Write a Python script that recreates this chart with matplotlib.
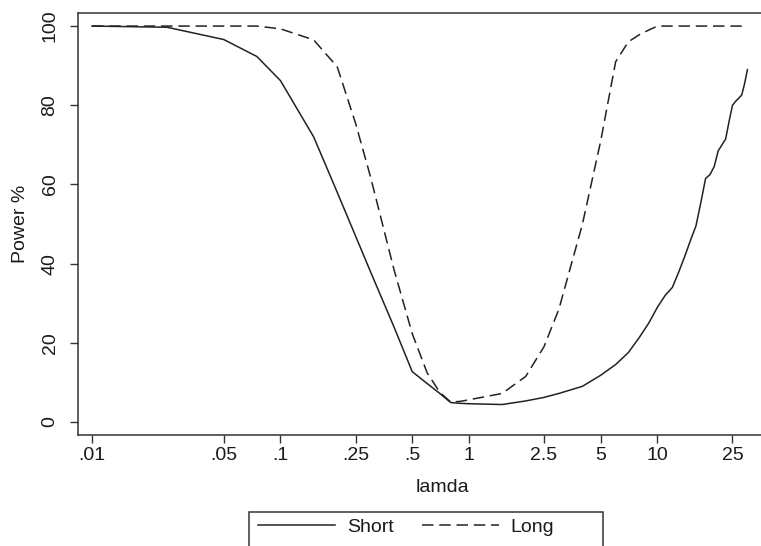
import matplotlib
matplotlib.use("Agg")
import matplotlib.pyplot as plt
from matplotlib.patches import Rectangle
import numpy as np

plt.rcParams['font.family'] = ['Liberation Sans', 'DejaVu Sans']

# ---- data ----
lamda = [0.01, 0.025, 0.05, 0.075, 0.1, 0.15, 0.2, 0.25, 0.3, 0.4, 0.5, 0.6, 0.7, 0.8, 0.9,
         1, 1.5, 2, 2.5, 3, 4, 5, 6, 7, 8, 9, 10, 11, 12, 13, 14, 15, 16, 17, 18, 19, 20,
         21, 22, 23, 24, 25, 26, 27, 28, 29, 30]
short = [100, 99.7, 96.6, 92.3, 86.2, 72, 58, 47, 38, 24, 12.7, 9.7, 7.2, 4.9, 4.7,
         4.6, 4.4, 5.3, 6.2, 7.2, 9.0, 11.8, 14.5, 17.5, 21.3, 25, 29, 32, 34, 38, 42, 46, 49.5, 55.5, 61.5, 62.5, 64.5,
         68.5, 70, 71.5, 76, 80, 81, 81.8, 82.6, 85.5, 89]
long_ = [100, 100, 100, 100, 99.3, 96.5, 89.7, 75.5, 62, 38.5, 22.3, 12.4, 7.5, 5.0, 5.2,
         5.6, 7.2, 11.5, 19, 28.5, 50, 71, 91, 96, 97.8, 99, 100, 100, 100, 100, 100, 100, 100, 100, 100, 100, 100,
         100, 100, 100, 100, 100, 100, 100, 100, 100, 100]
xticks = [0.01, 0.05, 0.1, 0.25, 0.5, 1, 2.5, 5, 10, 25]
xticklabels = ['.01', '.05', '.1', '.25', '.5', '1', '2.5', '5', '10', '25']
yticks = [0, 20, 40, 60, 80, 100]

W, H = 761, 546
fig = plt.figure(figsize=(W / 100, H / 100), dpi=100)

# axes in pixel coordinates (right side extends past the image edge)
ax_l, ax_r, ax_t, ax_b = 78, 806, 13, 435
ax = fig.add_axes([ax_l / W, (H - ax_b) / H, (ax_r - ax_l) / W, (ax_b - ax_t) / H])

ink = '#222222'
ax.plot(lamda, short, color=ink, lw=1.1, label='Short')
ax.plot(lamda, long_, color=ink, lw=1.1, dashes=(7.5, 3.8), label='Long')

ax.set_xscale('log')
ax.set_xlim(10 ** -2.0743, 10 ** 1.788)
ax.set_ylim(-3.3, 103.3)
ax.set_xticks(xticks)
ax.set_xticklabels(xticklabels)
ax.xaxis.set_minor_locator(matplotlib.ticker.NullLocator())
ax.set_yticks(yticks)
ax.set_yticklabels([str(v) for v in yticks], rotation=90, va='center')

for s in ['left', 'bottom', 'top']:
    ax.spines[s].set_color('#333333')
    ax.spines[s].set_linewidth(1.1)
ax.spines['right'].set_visible(False)
ax.tick_params(axis='both', direction='out', length=6, width=1.0, color='#333333',
               labelsize=14, labelcolor='#1a1a1a')
ax.tick_params(axis='x', pad=3)
ax.tick_params(axis='y', pad=8)

ax.set_xlabel('lamda', fontsize=14, color='#1a1a1a')
ax.xaxis.set_label_coords((442 - ax_l) / (ax_r - ax_l), -(479 - ax_b) / (ax_b - ax_t))
ax.xaxis.label.set_va('top')
ax.set_ylabel('Power %', fontsize=14, color='#1a1a1a')
ax.yaxis.set_label_coords(-(ax_l - 20) / (ax_r - ax_l), 0.5)
ax.yaxis.label.set_va('center')

# legend
handles, labels = ax.get_legend_handles_labels()
leg = fig.legend(handles, labels, loc='upper left', bbox_to_anchor=(258 / W, (H - 518) / H),
                 bbox_transform=fig.transFigure, ncol=2, frameon=False, borderpad=0,
                 borderaxespad=0, handlelength=3.97, handletextpad=0.6, columnspacing=1.44,
                 fontsize=14)
for t in leg.get_texts():
    t.set_color('#1a1a1a')
fig.add_artist(Rectangle((249.3 / W, (H - 570) / H), (603.3 - 249.3) / W, (570 - 511.7) / H,
                         transform=fig.transFigure, fill=False, lw=1.1, ec='#333333'))

fig.savefig('out.png', dpi=100)
